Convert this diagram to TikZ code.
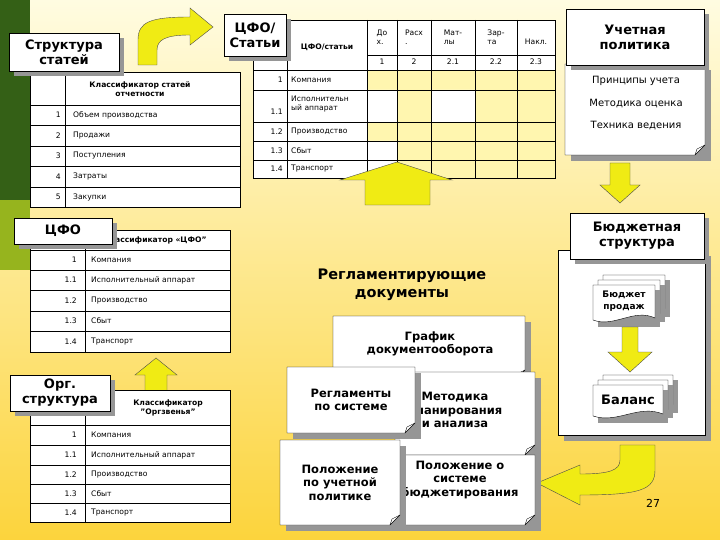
\documentclass[tikz,border=0pt]{standalone}
\usepackage{fontspec}
\setmainfont{DejaVu Sans}
\usetikzlibrary{shadows}
\definecolor{dgreen}{RGB}{52,96,22}
\definecolor{lgreen}{RGB}{150,180,30}
\definecolor{bgtop}{RGB}{255,252,225}
\definecolor{bgbot}{RGB}{252,212,60}
\definecolor{arr}{RGB}{240,235,20}
\definecolor{cell}{RGB}{255,246,175}
\definecolor{shad}{RGB}{150,150,150}
\tikzset{
 lbl/.style={draw=black,fill=white,font=\bfseries\fontsize{13}{15}\selectfont,align=center,inner sep=2pt,
   drop shadow={shadow xshift=5pt,shadow yshift=-5pt,fill=shad,opacity=1}},
 tt/.style={font=\fontsize{7.6}{9}\selectfont,inner sep=1pt},
 ttb/.style={font=\bfseries\fontsize{7.6}{9}\selectfont,inner sep=1pt,align=center},
 grid/.style={draw=black,line width=0.5pt},
 barrow/.style={fill=arr,draw=black!70,line width=0.4pt},
 dtxt/.style={font=\bfseries\fontsize{11.5}{13.5}\selectfont,align=center},
}
\newcommand\mydoc[5]{%
 \fill[shad] (#1+6,#2+6) rectangle (#3+6,#4+6);
 \draw[fill=white] (#1,#2) -- (#3,#2) -- (#3,#4-10) -- (#3-10,#4) -- (#1,#4) -- cycle;
 \draw (#3,#4-10) -- (#3-8,#4-6) -- (#3-10,#4);
 \node[dtxt] at ({(#1+#3)/2},{(#2+#4)/2}) {#5};}
\newcommand\stackdoc[6]{%
 \foreach \o in {10,5,0}{
 \fill[shad] (#1+\o+5,#2-\o+5) rectangle (#3+\o+5,#4-\o+5);
 \draw[fill=white] (#1+\o,#2-\o) -- (#3+\o,#2-\o) -- (#3+\o,#4-\o-4) .. controls ({(#1+#3)/2+\o+10},#4-\o-14) and ({(#1+#3)/2+\o-10},#4-\o+6) .. (#1+\o,#4-\o-2) -- cycle;}
 \node[font=\bfseries\fontsize{#6}{12}\selectfont,align=center] at ({(#1+#3)/2},{(#2+#4)/2-2}) {#5};}
\begin{document}
\begin{tikzpicture}[x=1pt,y=-1pt]
\useasboundingbox (0,0) rectangle (720,540);
\shade[top color=bgtop,bottom color=bgbot] (0,0) rectangle (720,540);
\fill[dgreen] (0,0) rectangle (30,200);
\fill[lgreen] (0,200) rectangle (30,270);
% curved arrow top
\draw[barrow] (138,65) -- (138,40) .. controls (138,22) and (150,17) .. (190,17) -- (190,8) -- (213,27) -- (190,45) -- (190,35) .. controls (165,35) and (157,40) .. (157,50) -- (157,65) -- cycle;
% table 1
\fill[white] (30,72) rectangle (240,207);
\draw[grid] (30,72) rectangle (240,207) (65,72) -- (65,207);
\foreach \y in {105,125,146,166,187} \draw[grid] (30,\y) -- (240,\y);
\node[ttb] at (140,89) {Классификатор статей\\отчетности};
\foreach \n/\t/\y in {1/Объем производства/115,2/Продажи/135.5,3/Поступления/156,4/Затраты/176.5,5/Закупки/197}{
 \node[tt,anchor=east] at (62,\y) {\n}; \node[tt,anchor=west] at (72,\y) {\t};}
\node[lbl,minimum width=110pt,minimum height=38pt] (ss) at (64,52) {Структура\\статей};
% table 2
\fill[white] (253,20) rectangle (555,178);
\fill[cell] (367,70) rectangle (555,178);
\fill[white] (367,90) rectangle (397,122) (431,90) rectangle (475,122) (367,141) rectangle (397,178);
\draw[grid] (253,20) rectangle (555,178);
\foreach \x in {287,367,397,431,475,517} \draw[grid] (\x,20) -- (\x,178);
\draw[grid] (367,55) -- (555,55);
\foreach \y in {70,90,122,141,160} \draw[grid] (253,\y) -- (555,\y);
\node[ttb] at (327,47) {ЦФО/статьи};
\foreach \x/\a/\b in {382/До\\х./1,414/Расх\\./2,453/Мат-\\лы/2.1,496/Зар-\\та/2.2}{
 \node[tt,align=left] at (\x,37) {\a}; \node[tt] at (\x,62) {\b};}
\node[tt] at (536,42) {Накл.}; \node[tt] at (536,62) {2.3};
\foreach \n/\t/\y in {1/Компания/80,1.2/Производство/131.5,1.3/Сбыт/150.5,1.4/Транспорт/169}{
 \node[tt,anchor=east] at (284,\y) {\n}; \node[tt,anchor=west] at (290,\y) {\t};}
\node[tt,anchor=east] at (284,112) {1.1};
\node[tt,anchor=west,align=left] at (290,104) {Исполнительн\\ый аппарат};
\node[lbl,minimum width=62pt,minimum height=42pt] (cs) at (255,35) {ЦФО/\\Статьи};
% up arrow under table 2
\draw[barrow] (365,205) -- (365,180) -- (340,180) -- (397,162) -- (452,180) -- (430,180) -- (430,205) -- cycle;
% uchetnaya politika
\fill[shad] (571,70) rectangle (711,161);
\draw[fill=white] (565,64) -- (705,64) -- (705,145) -- (695,155) -- (565,155) -- cycle;
\draw (705,145) -- (697,149) -- (695,155);
\node[font=\fontsize{10}{12}\selectfont] at (636,81) {Принципы учета};
\node[font=\fontsize{10}{12}\selectfont] at (636,104) {Методика оценка};
\node[font=\fontsize{10}{12}\selectfont] at (636,126) {Техника ведения};
\node[lbl,minimum width=138pt,minimum height=56pt] (up) at (635,37) {Учетная\\политика};
\draw[barrow] (610,163) -- (630,163) -- (630,185) -- (640,185) -- (620,203) -- (600,185) -- (610,185) -- cycle;
% budget structure box
\fill[shad] (564,256) rectangle (711,441);
\draw[fill=white] (558,250) rectangle (705,435);
\node[lbl,minimum width=134pt,minimum height=46pt] (bs) at (637,236) {Бюджетная\\структура};
\stackdoc{593}{285}{655}{322}{Бюджет\\продаж}{9}
\draw[barrow] (622,327) -- (638,327) -- (638,352) -- (652,352) -- (630,372) -- (608,352) -- (622,352) -- cycle;
\stackdoc{593}{385}{663}{418}{Баланс}{13}
% bottom curved arrow
\draw[barrow] (620,445) -- (655,445) -- (655,470) .. controls (655,490) and (640,495) .. (580,495) -- (580,505) -- (537,483) -- (580,465) -- (580,474) .. controls (610,474) and (620,470) .. (620,460) -- cycle;
\node[font=\fontsize{11}{13}\selectfont] at (653,503) {27};
% regulating docs
\node[font=\bfseries\fontsize{14.5}{18}\selectfont,align=center] at (402,285) {Регламентирующие\\документы};
\mydoc{333}{316}{525}{380}{}
\node[dtxt] at (430,344) {График\\документооборота};
\mydoc{395}{372}{535}{455}{}
\node[dtxt] at (455,410) {Методика\\планирования\\и анализа};
\mydoc{287}{367}{415}{433}{Регламенты\\по системе}
\mydoc{395}{455}{535}{525}{}
\node[dtxt] at (460,480) {Положение о\\системе\\бюджетирования};
\mydoc{280}{440}{400}{525}{Положение\\по учетной\\политике}
% table 3
\fill[white] (30,230) rectangle (230,352);
\draw[grid] (30,230) rectangle (230,352) (85,230) -- (85,352);
\foreach \y in {250,270,290,311,331} \draw[grid] (30,\y) -- (230,\y);
\node[ttb] at (155,240) {Классификатор «ЦФО"};
\foreach \n/\t/\y in {1/Компания/260,1.1/Исполнительный аппарат/280,1.2/Производство/300.5,1.3/Сбыт/321,1.4/Транспорт/341.5}{
 \node[tt,anchor=east] at (78,\y) {\n}; \node[tt,anchor=west] at (90,\y) {\t};}
\node[lbl,minimum width=98pt,minimum height=26pt] (cfo) at (63,231) {ЦФО};
% arrow up
\draw[barrow] (145,395) -- (145,375) -- (135,375) -- (156,358) -- (177,375) -- (167,375) -- (167,395) -- cycle;
% table 4
\fill[white] (30,390) rectangle (230,522);
\draw[grid] (30,390) rectangle (230,522) (85,390) -- (85,522);
\foreach \y in {425,445,465,484,503} \draw[grid] (30,\y) -- (230,\y);
\node[ttb] at (168,408) {Классификатор\\"Оргзвенья"};
\foreach \n/\t/\y in {1/Компания/435,1.1/Исполнительный аппарат/455,1.2/Производство/474.5,1.3/Сбыт/493.5,1.4/Транспорт/512.5}{
 \node[tt,anchor=east] at (78,\y) {\n}; \node[tt,anchor=west] at (90,\y) {\t};}
\node[lbl,minimum width=100pt,minimum height=36pt] (org) at (60,393) {Орг.\\структура};
\end{tikzpicture}
\end{document}
